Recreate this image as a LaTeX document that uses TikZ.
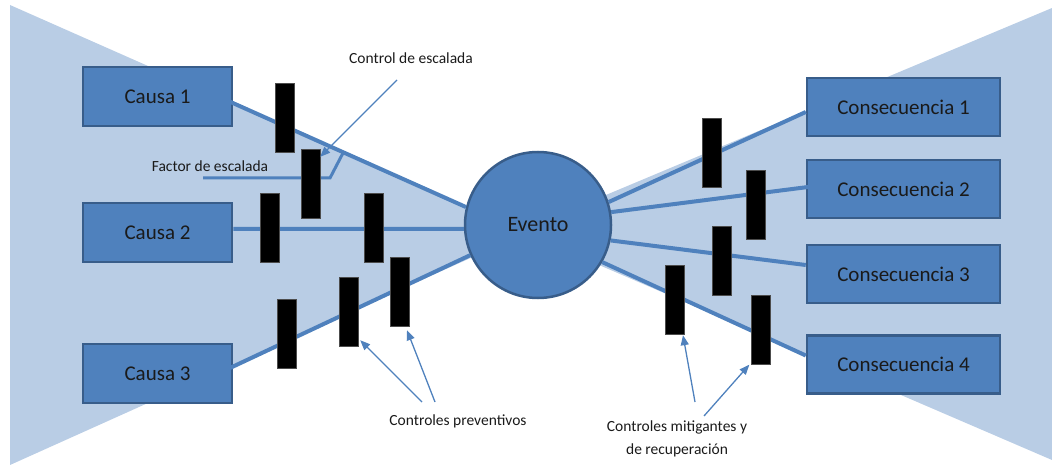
\documentclass[tikz,border=0pt]{standalone}
\usepackage{fontspec}
\setmainfont{Carlito}
\usetikzlibrary{arrows.meta,calc}
\definecolor{tri}{HTML}{B9CDE5}
\definecolor{boxfill}{HTML}{4F81BD}
\definecolor{boxline}{HTML}{385D8A}
\definecolor{conn}{HTML}{4F81BD}
\definecolor{txt}{HTML}{1A1A1A}
\tikzset{
  causebox/.style={draw=boxline, line width=2.5pt, fill=boxfill, minimum width=149pt, minimum height=59pt, inner sep=0pt, text=txt, font=\fontsize{21}{25}\selectfont},
  consbox/.style={draw=boxline, line width=2.5pt, fill=boxfill, minimum width=193pt, minimum height=58pt, inner sep=0pt, text=txt, font=\fontsize{21}{25}\selectfont},
  eventnode/.style={circle, draw=boxline, line width=2.5pt, fill=boxfill, minimum size=146pt, inner sep=0pt, text=txt, font=\fontsize{22}{26}\selectfont},
  barrier/.style={fill=black, draw=black!70, line width=0.4pt, minimum width=19pt, minimum height=69pt, inner sep=0pt},
  thickconn/.style={draw=conn, line width=4pt},
  pointer/.style={draw=conn, line width=1.3pt, -{Triangle[length=10pt,width=8pt]}},
  smalllabel/.style={text=txt, font=\fontsize{15.5}{23}\selectfont, align=center, inner sep=1pt}
}
\begin{document}
\begin{tikzpicture}[x=1pt,y=-1pt]
\useasboundingbox (0,0) rectangle (1052,465);
% bow-tie background
\fill[tri] (10,5) -- (475,210.5) -- (475,256) -- (10,465) -- cycle;
\fill[tri] (1052,8) -- (520,231) -- (1052,460) -- cycle;

% boxes
\node[causebox] (c1) at (157.5,96.5) {Causa 1};
\node[causebox] (c2) at (157.5,232.5) {Causa 2};
\node[causebox] (c3) at (157.5,373.5) {Causa 3};
\node[consbox] (k1) at (903.5,107) {Consecuencia 1};
\node[consbox] (k2) at (903.5,189) {Consecuencia 2};
\node[consbox] (k3) at (903.5,274) {Consecuencia 3};
\node[consbox] (k4) at (903.5,364.5) {Consecuencia 4};

% event
\node[eventnode] (ev) at (538,225) {Evento};

% connectors
\draw[thickconn] ([xshift=-15pt]c1.east) -- (ev.166);
\draw[thickconn] ([yshift=3.5pt]c2.east) -- (ev.183);
\draw[thickconn] ([xshift=-15pt]c3.east) -- (ev.204);
\draw[thickconn] (ev.18) -- ([yshift=-5pt]k1.west);
\draw[thickconn] (ev.10) -- ([xshift=18pt,yshift=4pt]k2.west);
\draw[thickconn] (ev.-12) -- ([yshift=9pt]k3.west);
\draw[thickconn] (ev.-30) -- ([yshift=9pt]k4.west);

% escalation factor line
\coordinate (fe1) at (203,178);
\coordinate (fe2) at (330,178);
\coordinate (fe3) at (343,153);
\draw[draw=conn, line width=3pt, line join=miter] (fe1) -- (fe2) -- (fe3);
\node[smalllabel] (fel) at (210,166) {Factor de escalada};

% barriers
\node[barrier] (b1) at (285,118) {};
\node[barrier] (b2) at (310.5,183.5) {};
\node[barrier] (b3) at (269.5,227.5) {};
\node[barrier] (b4) at (373.5,227.5) {};
\node[barrier] (b5) at (400,291.5) {};
\node[barrier] (b6) at (348.5,311.5) {};
\node[barrier] (b7) at (287,333.5) {};
\node[barrier] (b8) at (711.5,152.5) {};
\node[barrier] (b9) at (756,205) {};
\node[barrier] (b10) at (721.5,260.5) {};
\node[barrier] (b11) at (675,299.5) {};
\node[barrier] (b12) at (761,330) {};

% labels
\node[smalllabel] (ce) at (411,58) {Control de escalada};
\node[smalllabel] (cp) at (458,421) {Controles preventivos};
\node[smalllabel] (cm) at (677,439) {Controles mitigantes y\\de recuperación};

% pointer arrows
\coordinate (p1) at (397,80);
\coordinate (p2) at (422,402);
\coordinate (p3) at (435,402);
\coordinate (p4) at (695,402);
\coordinate (p5) at (704,416);
\draw[pointer] (p1) -- ([yshift=-8pt]b2.north east);
\draw[pointer] (p2) -- ([xshift=2pt,yshift=6pt]b6.south east);
\draw[pointer] (p3) -- ([xshift=7pt,yshift=-4pt]b5.south);
\draw[pointer] (p4) -- ([xshift=8pt,yshift=-1pt]b11.south);
\draw[pointer] (p5) -- ([xshift=-2pt]b12.south west);
\end{tikzpicture}
\end{document}
